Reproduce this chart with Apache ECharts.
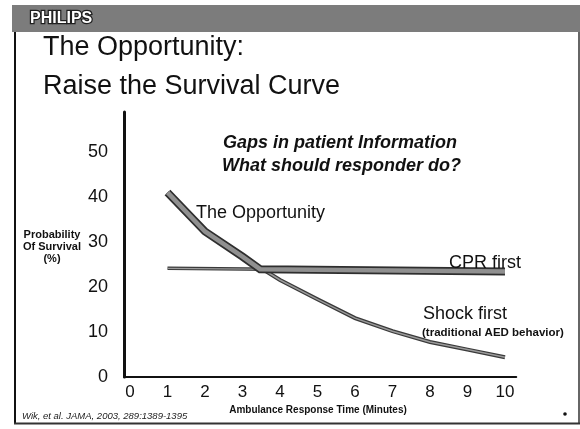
<!DOCTYPE html>
<html>
<head>
<meta charset="utf-8">
<style>
html,body{margin:0;padding:0;background:#fff;}
#chart{width:580px;height:429px;}
</style>
<script src="https://cdn.jsdelivr.net/npm/echarts@6/dist/echarts.min.js"></script>
</head>
<body>
<div id="chart"></div>
<script>
// Data
var xTicks = [0, 1, 2, 3, 4, 5, 6, 7, 8, 9, 10];
var yTicks = [0, 10, 20, 30, 40, 50];
var shockFirst = [[1, 41.1], [2, 32.4], [3, 26.8], [4, 21.6], [5, 17.3], [6, 13.1], [7, 10.2], [8, 7.8], [9, 6.1], [10, 4.4]];
var cprFirst = [[1, 24.2], [10, 23.5]];
var opportunity = [[1, 41.1], [2, 32.4], [3, 26.8], [3.47, 24.0], [10, 23.5]];

var FONT = '"Liberation Sans", Arial, Helvetica, sans-serif';
var chart = echarts.init(document.getElementById('chart'), null, {renderer: 'canvas'});

function lineSeries(name, data, color, width, z) {
  return {
    name: name, type: 'line', data: data, symbol: 'none', smooth: false,
    z: z, silent: true, animation: false,
    lineStyle: {color: color, width: width, cap: 'butt', join: 'miter'}
  };
}

var option = {
  backgroundColor: '#ffffff',
  animation: false,
  grid: {left: 124, right: 63.75, top: 112, bottom: 52, containLabel: false},
  xAxis: {
    type: 'value', min: -0.16, max: 10.3,
    axisLine: {show: true, onZero: false, lineStyle: {color: '#111', width: 2}},
    axisTick: {show: false},
    splitLine: {show: false},
    axisLabel: {customValues: xTicks, fontSize: 17, color: '#111', margin: 7, fontFamily: FONT}
  },
  yAxis: {
    type: 'value', min: 0, max: 59,
    axisLine: {show: true, onZero: false, lineStyle: {color: '#111', width: 3}},
    axisTick: {show: false},
    splitLine: {show: false},
    axisLabel: {customValues: yTicks, fontSize: 18, color: '#111', margin: 16, fontFamily: FONT}
  },
  series: [
    lineSeries('Shock first outline', shockFirst, '#3a3a3a', 4, 2),
    lineSeries('Shock first', shockFirst, '#9a9a9a', 1.5, 3),
    lineSeries('CPR first outline', cprFirst, '#3a3a3a', 3.5, 2),
    lineSeries('CPR first', cprFirst, '#9a9a9a', 1.2, 3),
    lineSeries('The Opportunity outline', opportunity, '#2e2e2e', 8, 4),
    lineSeries('The Opportunity', opportunity, '#909090', 4.5, 5)
  ],
  graphic: [
    // header band
    {type: 'rect', shape: {x: 12, y: 5, width: 568, height: 27}, style: {fill: '#7c7c7c'}, z: 1},
    {type: 'text', style: {x: 30, y: 19, text: 'PHILIPS', font: 'bold 16px ' + FONT, fill: '#ffffff', stroke: '#1e1e1e', lineWidth: 2.5, textVerticalAlign: 'middle'}, z: 2},
    // slide border
    {type: 'line', shape: {x1: 15, y1: 32, x2: 15, y2: 424}, style: {stroke: '#111', lineWidth: 2}},
    {type: 'line', shape: {x1: 14, y1: 423.5, x2: 580, y2: 423.5}, style: {stroke: '#333', lineWidth: 2}},
    {type: 'line', shape: {x1: 579, y1: 32, x2: 579, y2: 424}, style: {stroke: '#333', lineWidth: 1.5}},
    // titles
    {type: 'text', style: {x: 43, y: 48, text: 'The Opportunity:', font: '27px ' + FONT, fill: '#111', textVerticalAlign: 'middle'}},
    {type: 'text', style: {x: 43, y: 87, text: 'Raise the Survival Curve', font: '27px ' + FONT, fill: '#111', textVerticalAlign: 'middle'}},
    {type: 'text', style: {x: 223, y: 143, text: 'Gaps in patient Information', font: 'italic bold 18px ' + FONT, fill: '#111', textVerticalAlign: 'middle'}},
    {type: 'text', style: {x: 222, y: 166, text: 'What should responder do?', font: 'italic bold 18px ' + FONT, fill: '#111', textVerticalAlign: 'middle'}},
    // annotations
    {type: 'text', style: {x: 196, y: 213, text: 'The Opportunity', font: '18px ' + FONT, fill: '#111', textVerticalAlign: 'middle'}, z: 10},
    {type: 'text', style: {x: 449, y: 263, text: 'CPR first', font: '18px ' + FONT, fill: '#111', textVerticalAlign: 'middle'}, z: 10},
    {type: 'text', style: {x: 423, y: 314, text: 'Shock first', font: '18px ' + FONT, fill: '#111', textVerticalAlign: 'middle'}, z: 10},
    {type: 'text', style: {x: 422, y: 333, text: '(traditional AED behavior)', font: 'bold 11.5px ' + FONT, fill: '#111', textVerticalAlign: 'middle'}, z: 10},
    // axis names
    {type: 'text', style: {x: 52, y: 247, text: 'Probability\nOf Survival\n(%)', font: 'bold 11px ' + FONT, fill: '#111', textAlign: 'center', textVerticalAlign: 'middle', lineHeight: 12}},
    {type: 'text', style: {x: 318, y: 410, text: 'Ambulance Response Time (Minutes)', font: 'bold 10px ' + FONT, fill: '#111', textAlign: 'center', textVerticalAlign: 'middle'}},
    // citation
    {type: 'text', style: {x: 22, y: 416.5, text: 'Wik, et al. JAMA, 2003, 289:1389-1395', font: 'italic 9.5px ' + FONT, fill: '#222', textVerticalAlign: 'middle'}},
    {type: 'circle', shape: {cx: 565, cy: 414, r: 1.8}, style: {fill: '#111'}}
  ]
};
chart.setOption(option);
</script>
</body>
</html>
